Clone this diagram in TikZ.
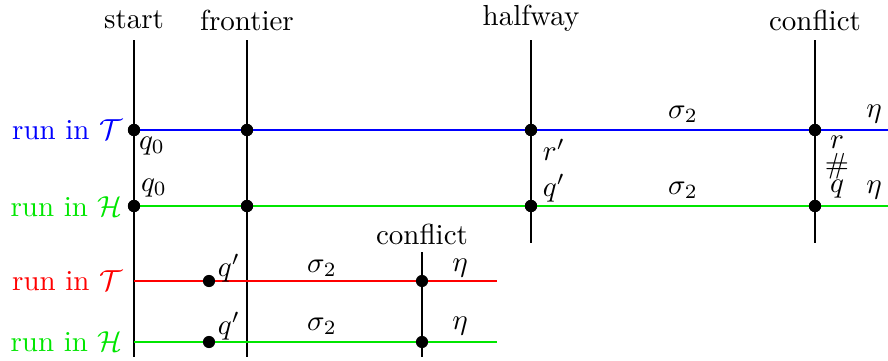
\documentclass[tikz,border=0pt]{standalone}
\usepackage{amsmath,amssymb}
\usepackage{xcolor}
\usepackage{tikz}
\usetikzlibrary{positioning,calc}
\definecolor{runBlue}{RGB}{0,0,255}
\definecolor{runGreen}{RGB}{0,230,0}
\definecolor{runRed}{RGB}{255,0,0}

\begin{document}
\begin{tikzpicture}[
  x=0.345pt,y=-0.345pt,
  dot/.style={circle,fill=black,inner sep=0pt,minimum size=4.2pt},
  phase/.style={draw=black,thin},
  runline/.style={line width=0.75pt},
  lbl/.style={inner sep=1pt},
  runlbl/.style={anchor=east,inner sep=0pt}
]
\useasboundingbox (0,0) rectangle (888,360);
% phase labels
\node[lbl] (start) at (134,20) {start};
\node[lbl] (frontier) at (247,20) {frontier};
\node[lbl] (halfway) at (531,18) {halfway};
\node[lbl] (conflict) at (815,20) {conflict};
\node[lbl] (conflictB) at (422,234) {conflict};
% phase bars
\coordinate (startEnd) at (134,357);
\coordinate (frontierEnd) at (247,357);
\coordinate (halfwayEnd) at (531,243);
\coordinate (conflictEnd) at (815,243);
\coordinate (conflictBEnd) at (422,357);
\draw[phase] (134,40) -- (startEnd);
\draw[phase] (247,40) -- (frontierEnd);
\draw[phase] (531,40) -- (halfwayEnd);
\draw[phase] (815,40) -- (conflictEnd);
\draw[phase] (422,252) -- (conflictBEnd);
% run labels
\node[runlbl,runBlue] (runT) at (123,130) {run in $\mathcal{T}$};
\node[runlbl,runGreen] (runH) at (123,207) {run in $\mathcal{H}$};
\node[runlbl,runRed] (runTb) at (123,281) {run in $\mathcal{T}$};
\node[runlbl,runGreen] (runHb) at (123,342) {run in $\mathcal{H}$};
% run lines
\coordinate (tEnd) at (888,130);
\coordinate (hEnd) at (888,206);
\coordinate (tbStart) at (134,281);
\coordinate (tbEnd) at (497,281);
\coordinate (hbStart) at (134,342);
\coordinate (hbEnd) at (497,342);
\node[dot] (t0) at (134,130) {};
\node[dot] (t1) at (247,130) {};
\node[dot] (t2) at (531,130) {};
\node[dot] (t3) at (815,130) {};
\node[dot] (h0) at (134,206) {};
\node[dot] (h1) at (247,206) {};
\node[dot] (h2) at (531,206) {};
\node[dot] (h3) at (815,206) {};
\draw[runline,runBlue] (t0.center) -- (tEnd);
\draw[runline,runGreen] (h0.center) -- (hEnd);
\draw[runline,runRed] (tbStart) -- (tbEnd);
\draw[runline,runGreen] (hbStart) -- (hbEnd);
\node[dot] (tb1) at (209,281) {};
\node[dot] (tb2) at (422,281) {};
\node[dot] (hb1) at (209,342) {};
\node[dot] (hb2) at (422,342) {};
\foreach \d in {t0,t1,t2,t3,h0,h1,h2,h3}
  \node[dot] at (\d) {};
% state labels
\node at (152,146) {$q_0$};
\node at (154,188) {$q_0$};
\node at (554,150) {$r'$};
\node at (554,188) {$q'$};
\node at (683,114) {$\sigma_2$};
\node at (683,190) {$\sigma_2$};
\node at (874,114) {$\eta$};
\node at (874,190) {$\eta$};
\node at (837,142) {$r$};
\node at (837,166) {$\#$};
\node at (837,189) {$q$};
\node at (229,268) {$q'$};
\node at (229,326) {$q'$};
\node at (322,268) {$\sigma_2$};
\node at (322,326) {$\sigma_2$};
\node at (460,268) {$\eta$};
\node at (460,326) {$\eta$};
\end{tikzpicture}
\end{document}
